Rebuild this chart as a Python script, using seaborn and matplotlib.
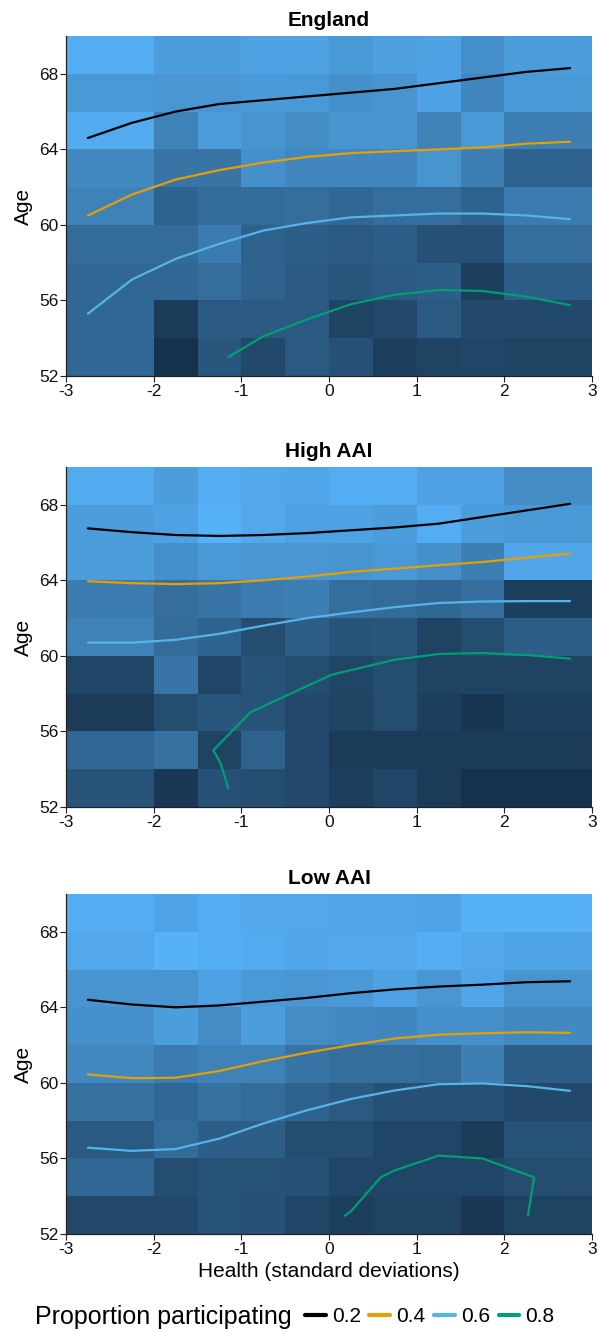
import numpy as np
import pandas as pd
import seaborn as sns
import matplotlib.pyplot as plt
from matplotlib.colors import LinearSegmentedColormap
from matplotlib.lines import Line2D

# ---------------- DATA ----------------
health_edges = [-3, -2, -1.5, -1, -0.5, 0, 0.5, 1, 1.5, 2, 3]
age_edges = [52, 54, 56, 58, 60, 62, 64, 66, 68, 70]
panels = ["England", "High AAI", "Low AAI"]
levels = ["0.2", "0.4", "0.6", "0.8"]
level_colors = ["black", "#E69F00", "#56B4E9", "#009E73"]

# cell shade (0 = dark, 1 = light), rows from age 68-70 down to 52-54
england_fill = [
    [0.97, 0.85, 0.85, 0.88, 0.88, 0.82, 0.86, 0.88, 0.75, 0.85],
    [0.82, 0.80, 0.80, 0.83, 0.82, 0.75, 0.78, 0.88, 0.68, 0.82],
    [0.95, 0.65, 0.85, 0.78, 0.72, 0.78, 0.78, 0.65, 0.82, 0.62],
    [0.70, 0.55, 0.55, 0.75, 0.68, 0.68, 0.68, 0.78, 0.62, 0.42],
    [0.65, 0.42, 0.48, 0.48, 0.50, 0.45, 0.50, 0.50, 0.42, 0.60],
    [0.48, 0.48, 0.60, 0.40, 0.38, 0.35, 0.38, 0.28, 0.28, 0.50],
    [0.45, 0.45, 0.50, 0.40, 0.35, 0.32, 0.35, 0.38, 0.15, 0.38],
    [0.45, 0.12, 0.35, 0.35, 0.35, 0.18, 0.22, 0.35, 0.22, 0.22],
    [0.45, 0.05, 0.32, 0.22, 0.35, 0.28, 0.15, 0.18, 0.20, 0.18],
]
high_fill = [
    [0.95, 0.85, 0.97, 0.93, 0.92, 0.97, 0.97, 0.88, 0.88, 0.72],
    [0.85, 0.88, 1.00, 0.93, 0.88, 0.88, 0.85, 0.97, 0.85, 0.82],
    [0.85, 0.75, 0.82, 0.80, 0.80, 0.78, 0.82, 0.75, 0.62, 0.92],
    [0.60, 0.50, 0.55, 0.60, 0.62, 0.50, 0.48, 0.45, 0.50, 0.15],
    [0.65, 0.48, 0.42, 0.25, 0.38, 0.30, 0.32, 0.18, 0.25, 0.38],
    [0.20, 0.55, 0.20, 0.30, 0.25, 0.20, 0.25, 0.18, 0.18, 0.18],
    [0.12, 0.25, 0.32, 0.30, 0.22, 0.18, 0.25, 0.15, 0.08, 0.15],
    [0.45, 0.52, 0.18, 0.40, 0.22, 0.12, 0.12, 0.12, 0.12, 0.12],
    [0.30, 0.10, 0.28, 0.25, 0.22, 0.15, 0.20, 0.12, 0.05, 0.05],
]
low_fill = [
    [0.97, 0.90, 0.97, 0.93, 0.93, 0.92, 0.92, 0.90, 1.00, 1.00],
    [0.93, 1.00, 0.97, 0.95, 0.92, 0.93, 0.93, 0.98, 0.93, 0.90],
    [0.78, 0.78, 0.88, 0.82, 0.80, 0.82, 0.88, 0.80, 0.92, 0.78],
    [0.75, 0.85, 0.72, 0.85, 0.72, 0.70, 0.68, 0.75, 0.75, 0.70],
    [0.70, 0.60, 0.65, 0.65, 0.55, 0.50, 0.50, 0.48, 0.62, 0.38],
    [0.52, 0.45, 0.52, 0.48, 0.42, 0.35, 0.28, 0.28, 0.28, 0.22],
    [0.35, 0.48, 0.38, 0.38, 0.25, 0.25, 0.20, 0.20, 0.12, 0.30],
    [0.45, 0.25, 0.30, 0.30, 0.28, 0.20, 0.20, 0.20, 0.20, 0.25],
    [0.22, 0.22, 0.30, 0.28, 0.20, 0.15, 0.18, 0.18, 0.10, 0.18],
]

# contour lines: age at which the proportion participating reaches each level
health_pts = [-2.75, -2.25, -1.75, -1.25, -0.75, -0.25, 0.25, 0.75, 1.25, 1.75, 2.25, 2.75]

england_02 = [64.6, 65.4, 66.0, 66.4, 66.6, 66.8, 67.0, 67.2, 67.5, 67.8, 68.1, 68.3]
england_04 = [60.5, 61.6, 62.4, 62.9, 63.3, 63.6, 63.8, 63.9, 64.0, 64.1, 64.3, 64.4]
england_06 = [55.3, 57.1, 58.2, 59.0, 59.7, 60.1, 60.4, 60.5, 60.6, 60.6, 60.5, 60.3]
england_08_x = [-1.15, -0.75, -0.25, 0.25, 0.75, 1.25, 1.75, 2.25, 2.75]
england_08 = [53.0, 54.1, 55.0, 55.8, 56.3, 56.55, 56.5, 56.2, 55.75]

high_02 = [66.75, 66.55, 66.4, 66.35, 66.4, 66.5, 66.65, 66.8, 67.0, 67.35, 67.7, 68.05]
high_04 = [63.95, 63.85, 63.8, 63.85, 64.0, 64.2, 64.45, 64.62, 64.8, 64.97, 65.2, 65.42]
high_06 = [60.7, 60.7, 60.85, 61.17, 61.6, 62.0, 62.3, 62.58, 62.8, 62.88, 62.9, 62.9]
high_08_x = [-1.15, -1.24, -1.32, -0.9, -0.3, 0.03, 0.75, 1.25, 1.75, 2.25, 2.75]
high_08 = [53.0, 54.35, 55.0, 57.0, 58.3, 59.0, 59.8, 60.1, 60.15, 60.05, 59.85]

low_02 = [64.4, 64.15, 64.0, 64.1, 64.3, 64.5, 64.75, 64.95, 65.1, 65.2, 65.33, 65.38]
low_04 = [60.45, 60.25, 60.27, 60.63, 61.15, 61.6, 62.0, 62.35, 62.55, 62.63, 62.68, 62.65]
low_06 = [56.57, 56.4, 56.5, 57.05, 57.85, 58.55, 59.15, 59.6, 59.93, 59.97, 59.83, 59.58]
low_08_x = [0.18, 0.25, 0.59, 0.75, 1.25, 1.75, 2.25, 2.34, 2.27]
low_08 = [52.97, 53.2, 55.0, 55.37, 56.15, 56.0, 55.15, 55.0, 53.0]

fills = [england_fill, high_fill, low_fill]
curves = [
    [(health_pts, england_02), (health_pts, england_04), (health_pts, england_06), (england_08_x, england_08)],
    [(health_pts, high_02), (health_pts, high_04), (health_pts, high_06), (high_08_x, high_08)],
    [(health_pts, low_02), (health_pts, low_04), (health_pts, low_06), (low_08_x, low_08)],
]

# ---------------- PLOT ----------------
sns.set_theme(style="ticks")
plt.rcParams['font.family'] = ['Liberation Sans', 'DejaVu Sans']
plt.rcParams['axes.unicode_minus'] = False
plt.rcParams['text.color'] = 'black'
plt.rcParams['axes.labelcolor'] = 'black'

cmap = LinearSegmentedColormap.from_list("gg", ["#132B43", "#56B1F7"])

fig = plt.figure(figsize=(5.98, 13.32), dpi=100)
tops = [36, 467, 894]
H, W = 1332, 598

for i, name in enumerate(panels):
    ax = fig.add_axes([66 / W, 1 - (tops[i] + 340) / H, 526 / W, 340 / H])
    ax.pcolormesh(health_edges, age_edges, np.array(fills[i])[::-1], cmap=cmap,
                  vmin=0, vmax=1, shading='flat', edgecolor='none')

    rows = []
    for lev, (xs, ys) in zip(levels, curves[i]):
        for k, (x, y) in enumerate(zip(xs, ys)):
            rows.append({'health': x, 'age': y, 'level': lev, 'order': k})
    df = pd.DataFrame(rows)
    sns.lineplot(data=df, x='health', y='age', hue='level', palette=level_colors,
                 hue_order=levels, sort=False, estimator=None, legend=False,
                 lw=1.6, ax=ax)

    ax.set_xlim(-3, 3)
    ax.set_ylim(52, 70)
    ax.set_xticks([-3, -2, -1, 0, 1, 2, 3])
    ax.set_yticks([52, 56, 60, 64, 68])
    ax.tick_params(labelsize=12.5, colors='#222222', labelcolor='#111111',
                   length=4, width=0.8, pad=1.5)
    ax.set_title(name, fontsize=15, fontweight='bold', pad=7, color='black')
    ax.set_ylabel("Age", fontsize=15, labelpad=4)
    ax.set_xlabel("Health (standard deviations)" if i == 2 else "", fontsize=15, labelpad=4)
    for s in ['top', 'right']:
        ax.spines[s].set_visible(False)
    for s in ['left', 'bottom']:
        ax.spines[s].set_color('#222222')
        ax.spines[s].set_linewidth(0.9)

# legend along the bottom
ly = 1 - 1317 / H
fig.text(35 / W, ly, "Proportion participating", fontsize=18, va='center', ha='left')
handles = [Line2D([], [], color=c, lw=3) for c in level_colors]
fig.legend(handles, levels, loc='center left', bbox_to_anchor=(305 / W, ly), ncol=4,
           frameon=False, fontsize=15, handlelength=1.0, handletextpad=0.3,
           columnspacing=0.4, borderpad=0, borderaxespad=0)

fig.savefig("out.png", dpi=100)
